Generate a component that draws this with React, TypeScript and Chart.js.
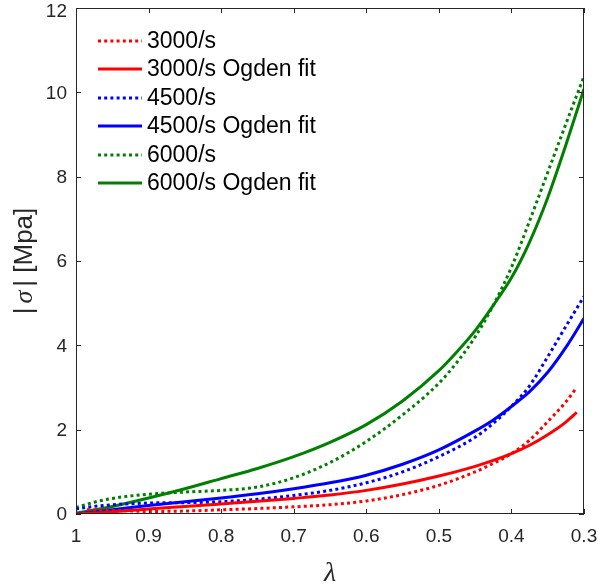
import React, { useEffect, useRef } from 'react';
import { Chart, registerables } from 'chart.js';

Chart.register(...registerables);

// ---- data ----
const lambda3000Exp = [0.985, 0.95, 0.9, 0.85, 0.8, 0.75, 0.7, 0.65, 0.6, 0.55, 0.5, 0.45, 0.425, 0.4, 0.375, 0.35, 0.325, 0.31];
const sigma3000Exp = [0.1, 0.09, 0.06, 0.07, 0.1, 0.13, 0.17, 0.22, 0.31, 0.46, 0.68, 1.0, 1.2, 1.43, 1.75, 2.19, 2.66, 3.0];

const lambda3000Fit = [1, 0.95, 0.9, 0.85, 0.8, 0.75, 0.7, 0.65, 0.6, 0.55, 0.5, 0.45, 0.425, 0.4, 0.375, 0.35, 0.325, 0.31];
const sigma3000Fit = [0, 0.05, 0.12, 0.18, 0.24, 0.3, 0.37, 0.45, 0.56, 0.71, 0.9, 1.13, 1.27, 1.43, 1.63, 1.88, 2.18, 2.41];

const lambda4500Exp = [1, 0.975, 0.95, 0.9, 0.85, 0.8, 0.75, 0.7, 0.65, 0.6, 0.55, 0.5, 0.45, 0.425, 0.4, 0.375, 0.35, 0.325, 0.3];
const sigma4500Exp = [0.12, 0.18, 0.22, 0.26, 0.27, 0.29, 0.35, 0.44, 0.56, 0.74, 1.0, 1.36, 1.82, 2.15, 2.55, 3.04, 3.73, 4.45, 5.16];

const lambda4500Fit = [1, 0.95, 0.9, 0.85, 0.8, 0.75, 0.7, 0.65, 0.6, 0.55, 0.5, 0.45, 0.425, 0.4, 0.375, 0.35, 0.325, 0.3];
const sigma4500Fit = [0, 0.1, 0.2, 0.29, 0.38, 0.48, 0.6, 0.74, 0.92, 1.18, 1.52, 1.97, 2.23, 2.55, 2.9, 3.36, 3.95, 4.64];

const lambda6000Exp = [1, 0.975, 0.95, 0.9, 0.85, 0.8, 0.75, 0.7, 0.65, 0.6, 0.55, 0.5, 0.475, 0.45, 0.425, 0.4, 0.375, 0.35, 0.325, 0.3];
const sigma6000Exp = [0.15, 0.28, 0.37, 0.47, 0.52, 0.56, 0.64, 0.86, 1.22, 1.72, 2.35, 3.1, 3.6, 4.2, 4.95, 5.85, 6.95, 8.1, 9.25, 10.38];

const lambda6000Fit = [1, 0.95, 0.9, 0.85, 0.8, 0.75, 0.7, 0.65, 0.6, 0.55, 0.5, 0.475, 0.45, 0.425, 0.4, 0.375, 0.35, 0.325, 0.3];
const sigma6000Fit = [0.02, 0.18, 0.38, 0.6, 0.84, 1.08, 1.36, 1.7, 2.12, 2.68, 3.4, 3.85, 4.35, 4.95, 5.6, 6.45, 7.5, 8.75, 10.08];

const seriesLabels = ['3000/s', '3000/s Ogden fit', '4500/s', '4500/s Ogden fit', '6000/s', '6000/s Ogden fit'];
const seriesColors = ['#ff0000', '#ff0000', '#0000ff', '#0000ff', '#008000', '#008000'];
const seriesDotted = [true, false, true, false, true, false];
const seriesLambdas = [lambda3000Exp, lambda3000Fit, lambda4500Exp, lambda4500Fit, lambda6000Exp, lambda6000Fit];
const seriesSigmas = [sigma3000Exp, sigma3000Fit, sigma4500Exp, sigma4500Fit, sigma6000Exp, sigma6000Fit];

const xTicks = [1, 0.9, 0.8, 0.7, 0.6, 0.5, 0.4, 0.3];
const xTickLabels = ['1', '0.9', '0.8', '0.7', '0.6', '0.5', '0.4', '0.3'];
const yTicks = [0, 2, 4, 6, 8, 10, 12];
const yTickLabels = ['0', '2', '4', '6', '8', '10', '12'];

const FONT = '"Liberation Sans", Arial, Helvetica, sans-serif';
const DOT_DASH = [3, 3.2];

const framePlugin = {
  id: 'framePlugin',
  afterDatasetsDraw(chart: any) {
    const { ctx, chartArea: a, scales } = chart;
    const x = scales.x;
    const y = scales.y;
    ctx.save();
    // box
    ctx.strokeStyle = '#262626';
    ctx.lineWidth = 1;
    ctx.setLineDash([]);
    ctx.strokeRect(Math.round(a.left) + 0.5, Math.round(a.top) + 0.5, Math.round(a.right - a.left) - 1, Math.round(a.bottom - a.top) - 1);
    const tl = 5;
    ctx.beginPath();
    xTicks.forEach((v) => {
      const px = Math.round(x.getPixelForValue(v)) + 0.5;
      ctx.moveTo(px, a.bottom);
      ctx.lineTo(px, a.bottom - tl);
      ctx.moveTo(px, a.top);
      ctx.lineTo(px, a.top + tl);
    });
    yTicks.forEach((v) => {
      const py = Math.round(y.getPixelForValue(v)) + 0.5;
      ctx.moveTo(a.left, py);
      ctx.lineTo(a.left + tl, py);
      ctx.moveTo(a.right, py);
      ctx.lineTo(a.right - tl, py);
    });
    ctx.stroke();

    // tick labels
    ctx.fillStyle = '#262626';
    ctx.font = `19px ${FONT}`;
    ctx.textAlign = 'center';
    ctx.textBaseline = 'middle';
    xTicks.forEach((v, i) => {
      ctx.fillText(xTickLabels[i], x.getPixelForValue(v), a.bottom + 23);
    });
    ctx.textAlign = 'right';
    yTicks.forEach((v, i) => {
      const py = Math.max(y.getPixelForValue(v), 11);
      ctx.fillText(yTickLabels[i], a.left - 9, py + 1);
    });

    // legend
    const lx0 = a.left + 22;
    const lx1 = a.left + 66;
    const tx = a.left + 71;
    const ly0 = a.top + 33;
    const step = 28.4;
    ctx.font = `23px ${FONT}`;
    ctx.textBaseline = 'middle';
    ctx.textAlign = 'left';
    seriesLabels.forEach((lab, i) => {
      const ly = Math.round(ly0 + i * step);
      ctx.strokeStyle = seriesColors[i];
      ctx.lineWidth = 3;
      ctx.lineCap = 'butt';
      ctx.setLineDash(seriesDotted[i] ? DOT_DASH : []);
      ctx.beginPath();
      ctx.moveTo(lx0, ly);
      ctx.lineTo(lx1, ly);
      ctx.stroke();
      ctx.setLineDash([]);
      ctx.fillStyle = '#000000';
      ctx.fillText(lab, tx, ly + 1);
    });

    // x title
    ctx.fillStyle = '#262626';
    ctx.font = `italic 28px "Liberation Serif", "DejaVu Serif", serif`;
    ctx.textAlign = 'center';
    ctx.textBaseline = 'middle';
    ctx.fillText('λ', (a.left + a.right) / 2, 574);

    // y title: |σ| [Mpa]
    const regular = `26px ${FONT}`;
    const italic = `italic 26px "Liberation Serif", "DejaVu Serif", serif`;
    const pieces: [string, string, number][] = [
      ['|', regular, 4],
      ['σ', italic, 4],
      ['|', regular, 0],
      [' [Mpa]', regular, 0],
    ];
    let total = 0;
    pieces.forEach(([t, f, g]) => {
      ctx.font = f;
      total += ctx.measureText(t).width + g;
    });
    ctx.translate(25, (a.top + a.bottom) / 2);
    ctx.rotate(-Math.PI / 2);
    ctx.textAlign = 'left';
    ctx.textBaseline = 'middle';
    let cx = -total / 2;
    pieces.forEach(([t, f, g]) => {
      ctx.font = f;
      ctx.fillText(t, cx, 0);
      cx += ctx.measureText(t).width + g;
    });
    ctx.restore();
  },
};

export default function App() {
  const canvasRef = useRef<HTMLCanvasElement | null>(null);

  useEffect(() => {
    if (!canvasRef.current) return;
    const datasets = seriesLabels.map((lab, i) => ({
      label: lab,
      data: seriesLambdas[i].map((l, j) => ({ x: l, y: seriesSigmas[i][j] })),
      borderColor: seriesColors[i],
      backgroundColor: seriesColors[i],
      borderWidth: 3,
      borderDash: seriesDotted[i] ? DOT_DASH : [],
      borderCapStyle: 'butt' as const,
      pointRadius: 0,
      fill: false,
      cubicInterpolationMode: 'monotone' as const,
    }));

    const chart = new Chart(canvasRef.current, {
      type: 'line',
      data: { datasets },
      plugins: [framePlugin],
      options: {
        responsive: false,
        animation: false,
        events: [],
        layout: { padding: { top: 8, right: 14, left: 0, bottom: 0 } },
        plugins: {
          legend: { display: false },
          tooltip: { enabled: false },
          title: { display: false },
        },
        scales: {
          x: {
            type: 'linear',
            reverse: true,
            min: 0.3,
            max: 1,
            grid: { display: false, drawTicks: false },
            border: { display: false },
            afterBuildTicks: (s: any) => {
              s.ticks = xTicks.map((v) => ({ value: v }));
            },
            afterFit: (s: any) => {
              s.height = 72;
            },
            ticks: { display: false },
          },
          y: {
            type: 'linear',
            min: 0,
            max: 12,
            grid: { display: false, drawTicks: false },
            border: { display: false },
            afterBuildTicks: (s: any) => {
              s.ticks = yTicks.map((v) => ({ value: v }));
            },
            afterFit: (s: any) => {
              s.width = 76;
            },
            ticks: { display: false },
          },
        },
      },
    });
    return () => chart.destroy();
  }, []);

  return (
    <div style={{ position: 'absolute', left: 0, top: 0, width: 598, height: 586, background: '#ffffff' }}>
      <canvas ref={canvasRef} width={598} height={586} style={{ display: 'block', width: 598, height: 586 }} />
    </div>
  );
}
